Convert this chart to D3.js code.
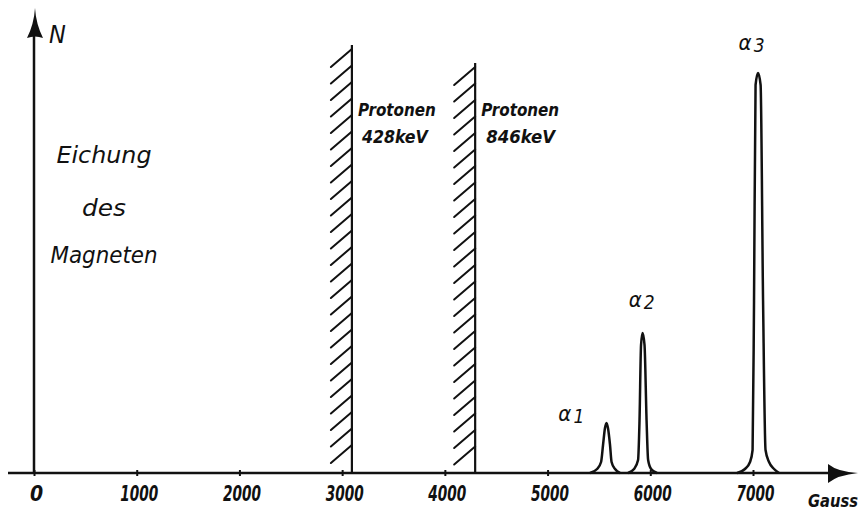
<!DOCTYPE html>
<html>
<head>
<meta charset="utf-8">
<script src="https://cdn.jsdelivr.net/npm/d3@7"></script>
<style>
  body { margin: 0; background: #fff; }
  svg { display: block; }
  .hand { font-family: "DejaVu Sans Condensed", "DejaVu Sans", sans-serif; font-style: italic; fill: #111; }
</style>
</head>
<body>
<div id="chart"></div>
<script>
// Calibration of the magnet: alpha peaks and proton edges (field in Gauss, N arbitrary)

var tickValues = [0, 1000, 2000, 3000, 4000, 5000, 6000, 7000];

// Proton edges: field position and height of the hatched wall
var walls = [
	{ gauss: 3095, top: 107, label: ["Protonen", "428keV"] },
	{ gauss: 4295, top: 102.5, label: ["Protonen", "846keV"] }
];

// Peak outlines: [gauss, N]
var alpha1 = [[5413, 0], [5482, 1], [5521, 2.75], [5540, 7], [5559, 11.25], [5574, 12.5],
	[5588, 11.25], [5608, 7], [5623, 2.75], [5657, 1], [5705, 0]];
var alpha2 = [[5783, 0], [5842, 1], [5881, 3.25], [5895, 13], [5910, 32], [5925, 35],
	[5944, 32], [5964, 13], [5979, 3.25], [6008, 1], [6066, 0]];
var alpha3 = [[6845, 0], [6922, 1], [6971, 2.75], [6996, 5.75], [7010, 43], [7025, 97], [7049, 100],
	[7074, 97], [7098, 43], [7122, 5.75], [7156, 2.75], [7205, 1], [7254, 0]];

var peakLabels = [
	{ text: "α", sub: "1", gauss: 5105, n: 13 },
	{ text: "α", sub: "2", gauss: 5790, n: 41.5 },
	{ text: "α", sub: "3", gauss: 6860, n: 105.7 }
];

var width = 859, height = 511;
var ink = "#111";

var svg = d3.select("#chart").append("svg")
	.attr("width", width)
	.attr("height", height);

// Scales
var x = d3.scaleLinear().domain([0, 7000]).range([34, 753]);
var y = d3.scaleLinear().domain([0, 100]).range([473, 73]);

// Axes lines with arrow heads
svg.append("line")
	.attr("x1", 8).attr("x2", 832)
	.attr("y1", y(0)).attr("y2", y(0))
	.attr("stroke", ink).attr("stroke-width", 2.5);
svg.append("path")
	.attr("d", "M828,464 Q838,472 858,473 Q838,475 828,483 Z")
	.attr("fill", ink);

svg.append("line")
	.attr("x1", x(0)).attr("x2", x(0))
	.attr("y1", y(0)).attr("y2", 34)
	.attr("stroke", ink).attr("stroke-width", 2.5);
svg.append("path")
	.attr("d", "M35,8 Q36,24 43,38 Q35,35 27,38 Q34,24 35,8 Z")
	.attr("fill", ink);

// X axis ticks and labels
var xAxis = d3.axisBottom(x)
	.tickValues(tickValues)
	.tickSize(3)
	.tickFormat(function(d) { return d; });

var gx = svg.append("g")
	.attr("transform", "translate(0," + y(0) + ")")
	.call(xAxis);
gx.select(".domain").remove();
gx.selectAll(".tick line")
	.attr("y1", -3).attr("y2", 3)
	.attr("stroke", ink).attr("stroke-width", 2);
gx.selectAll(".tick text")
	.attr("class", "hand")
	.attr("y", 28).attr("dy", null)
	.attr("dx", 2)
	.attr("font-size", 21)
	.attr("font-weight", "bold")
	.attr("textLength", function(d) { return d === 0 ? null : 38; })
	.attr("lengthAdjust", "spacingAndGlyphs");

svg.append("text")
	.attr("class", "hand")
	.attr("x", 808).attr("y", 507)
	.attr("font-size", 17)
	.attr("font-weight", "bold")
	.attr("textLength", 50)
	.attr("lengthAdjust", "spacingAndGlyphs")
	.text("Gauss");

svg.append("text")
	.attr("class", "hand")
	.attr("x", 49).attr("y", 43)
	.attr("font-size", 25)
	.text("N");

// Title block
var title = [["Eichung", 163, 95], ["des", 216, 44], ["Magneten", 263, 107]];
svg.selectAll(".title")
	.data(title)
	.enter().append("text")
		.attr("class", "hand title")
		.attr("x", 104).attr("y", function(d) { return d[1]; })
		.attr("text-anchor", "middle")
		.attr("font-size", 23)
		.attr("textLength", function(d) { return d[2]; })
		.attr("lengthAdjust", "spacingAndGlyphs")
		.text(function(d) { return d[0]; });

// Hatched proton walls
walls.forEach(function(w, i) {
	var wx = x(w.gauss), top = y(w.top), bottom = y(0);
	var g = svg.append("g");
	g.append("line")
		.attr("x1", wx).attr("x2", wx)
		.attr("y1", top).attr("y2", bottom)
		.attr("stroke", ink).attr("stroke-width", 2.2);
	var hatches = d3.range(top + 4, bottom - 18, 16.5);
	g.selectAll(".hatch")
		.data(hatches)
		.enter().append("line")
			.attr("x1", wx).attr("y1", function(d) { return d; })
			.attr("x2", wx - 21).attr("y2", function(d) { return d + 18; })
			.attr("stroke", ink).attr("stroke-width", 2)
			.attr("stroke-linecap", "round");
	var t = g.append("text")
		.attr("class", "hand")
		.attr("font-size", 17)
		.attr("font-weight", "bold");
	t.append("tspan")
		.attr("x", wx + 6).attr("y", 116)
		.attr("textLength", 78).attr("lengthAdjust", "spacingAndGlyphs")
		.text(w.label[0]);
	t.append("tspan")
		.attr("x", wx + (i === 0 ? 10 : 11)).attr("y", 143)
		.attr("textLength", i === 0 ? 66 : 69).attr("lengthAdjust", "spacingAndGlyphs")
		.text(w.label[1]);
});

// Peaks
var line = d3.line()
	.x(function(d) { return x(d[0]); })
	.y(function(d) { return y(d[1]); })
	.curve(d3.curveMonotoneX);

svg.selectAll(".peak")
	.data([alpha1, alpha2, alpha3])
	.enter().append("path")
		.attr("class", "peak")
		.attr("d", line)
		.attr("fill", "none")
		.attr("stroke", ink)
		.attr("stroke-width", 2.5)
		.attr("stroke-linejoin", "round");

// Peak labels
var pl = svg.selectAll(".plabel")
	.data(peakLabels)
	.enter().append("text")
		.attr("class", "hand plabel")
		.attr("x", function(d) { return x(d.gauss); })
		.attr("y", function(d) { return y(d.n); })
		.attr("font-size", 22);
pl.append("tspan").text(function(d) { return d.text; });
pl.append("tspan")
	.attr("dx", 2).attr("dy", 2)
	.attr("font-size", 19)
	.text(function(d) { return d.sub; });
</script>
</body>
</html>
